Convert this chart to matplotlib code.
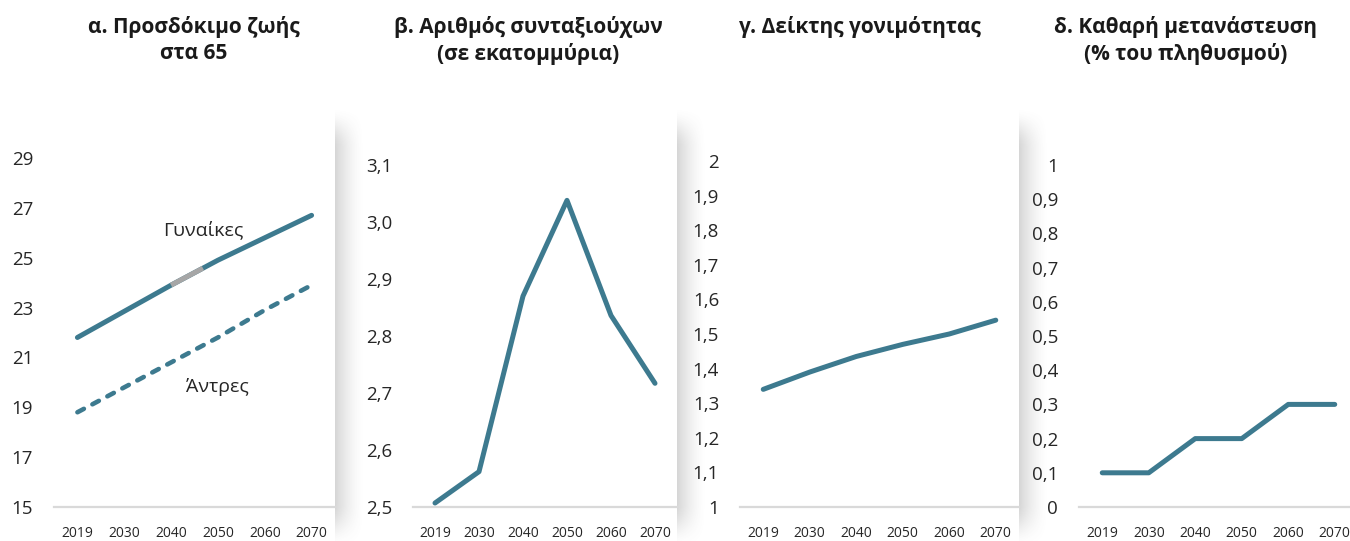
import numpy as np
import matplotlib
matplotlib.use("Agg")
import matplotlib.pyplot as plt

plt.rcParams['font.family'] = ['Open Sans', 'Noto Sans', 'DejaVu Sans']

# ---------------- data ----------------
years = ["2019", "2030", "2040", "2050", "2060", "2070"]

life_women = [21.8, 22.85, 23.9, 24.9, 25.8, 26.7]
life_men = [18.8, 19.8, 20.8, 21.8, 22.9, 23.9]
pensioners = [2.507, 2.562, 2.870, 3.038, 2.836, 2.717]
fertility = [1.34, 1.39, 1.435, 1.47, 1.50, 1.54]
migration = [0.1, 0.1, 0.2, 0.2, 0.3, 0.3]

titles = ["α. Προσδόκιμο ζωής\nστα 65",
          "β. Αριθμός συνταξιούχων\n(σε εκατομμύρια)",
          "γ. Δείκτης γονιμότητας",
          "δ. Καθαρή μετανάστευση\n(% του πληθυσμού)"]

ticks1 = [15, 17, 19, 21, 23, 25, 27, 29]
ticks2 = [2.5, 2.6, 2.7, 2.8, 2.9, 3.0, 3.1]
ticks3 = [1.0, 1.1, 1.2, 1.3, 1.4, 1.5, 1.6, 1.7, 1.8, 1.9, 2.0]
ticks4 = [0.0, 0.1, 0.2, 0.3, 0.4, 0.5, 0.6, 0.7, 0.8, 0.9, 1.0]

label_women = "Γυναίκες"
label_men = "Άντρες"

# ---------------- style ----------------
W, H = 1350, 541
LINE = "#3d7a8f"
HILITE = "#a6a6a6"
BASE = "#d9d9d9"
TXT = "#262626"
LW = 3.6

fig = plt.figure(figsize=(W / 100, H / 100), dpi=100)
fig.patch.set_facecolor("white")

# background axes for card shadows
bg = fig.add_axes([0, 0, 1, 1], zorder=-5)
bg.set_xlim(0, W)
bg.set_ylim(H, 0)
bg.axis("off")


def add_shadow(x0, width=30, top=106, bottom=H):
    nx, ny = 60, 200
    xs = np.linspace(0, 1, nx)
    ys = np.linspace(top, bottom, ny)
    hprof = 0.25 * (1 - xs) ** 1.6
    vtop = np.clip((ys - top) / 42.0, 0, 1)
    vtop = vtop * vtop * (3 - 2 * vtop)
    vbot = np.clip((bottom + 8 - ys) / 45.0, 0, 1)
    vbot = vbot * vbot * (3 - 2 * vbot)
    alpha = np.outer(vtop * vbot, hprof)
    img = np.zeros((ny, nx, 4))
    img[..., :3] = 0.35
    img[..., 3] = alpha
    bg.imshow(img, extent=(x0, x0 + width, bottom, top), aspect="auto",
              interpolation="bilinear", zorder=1)


for xb in (335, 677, 1019):
    add_shadow(xb)


def px_axes(left, right, bottom, top):
    return fig.add_axes([left / W, 1 - bottom / H, (right - left) / W, (bottom - top) / H])


def style(ax, ticks, labels, xmax=5.5):
    ax.set_facecolor("none")
    for s in ("top", "right", "left"):
        ax.spines[s].set_visible(False)
    ax.spines["bottom"].set_color(BASE)
    ax.spines["bottom"].set_linewidth(1.6)
    ax.set_xlim(-0.5, xmax)
    ax.set_ylim(ticks[0], ticks[-1])
    ax.set_yticks(ticks)
    ax.set_yticklabels(labels)
    ax.set_xticks(range(len(years)))
    ax.set_xticklabels(years)
    ax.tick_params(axis="y", length=0, pad=15, labelsize=13.5, colors=TXT)
    ax.tick_params(axis="x", length=0, pad=14, labelsize=10, colors=TXT)


def fmt(v, dec):
    if dec == 0:
        return f"{v:g}"
    return f"{v:.{dec}f}".replace(".", ",")


x = np.arange(len(years))

# panel a
ax1 = px_axes(54, 335, 507, 158)
style(ax1, ticks1, [fmt(t, 0) for t in ticks1])
ax1.plot(x, life_women, color=LINE, lw=LW, solid_capstyle="round", zorder=3)
xs_h = np.linspace(2, 2.68, 10)
ax1.plot(xs_h, np.interp(xs_h, x, life_women), color=HILITE, lw=LW, solid_capstyle="butt", zorder=4)
ax1.plot(x, life_men, color=LINE, lw=3.3, dashes=(1.6, 2.1), dash_capstyle="round", zorder=3)
ax1.text(2.68, 26.1, label_women, fontsize=14, color=TXT, ha="center", va="center")
ax1.text(2.98, 19.8, label_men, fontsize=14, color=TXT, ha="center", va="center")

# panel b
ax2 = px_axes(413, 677, 507, 165)
style(ax2, ticks2, [fmt(t, 1) for t in ticks2])
ax2.plot(x, pensioners, color=LINE, lw=LW, solid_capstyle="round", solid_joinstyle="round", zorder=3)

# panel c
ax3 = px_axes(740, 1019, 507, 161)
lab3 = [fmt(t, 1) if abs(t - round(t)) > 1e-9 else f"{int(round(t))}" for t in ticks3]
style(ax3, ticks3, lab3)
ax3.plot(x, fertility, color=LINE, lw=LW, solid_capstyle="round", zorder=3)

# panel d
ax4 = px_axes(1079, 1350, 507, 165)
lab4 = [fmt(t, 1) if abs(t - round(t)) > 1e-9 else f"{int(round(t))}" for t in ticks4]
style(ax4, ticks4, lab4, xmax=-0.5 + 271 / 46.5)
ax4.plot(x, migration, color=LINE, lw=LW, solid_capstyle="round", solid_joinstyle="round", zorder=3)

# titles
title_x = [194, 528, 860, 1186]
for tx, t in zip(title_x, titles):
    fig.text(tx / W, 1 - 16 / H, t, ha="center", va="top", fontsize=15,
             fontweight="bold", color="#1a1a1a", linespacing=1.3)

fig.savefig("out.png", dpi=100, facecolor="white")
